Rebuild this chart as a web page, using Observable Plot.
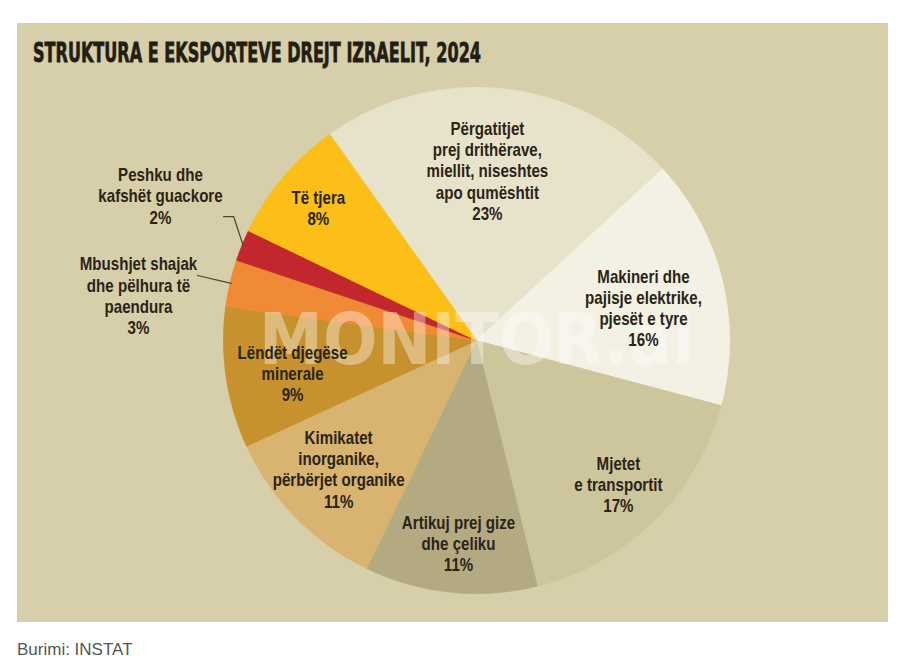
<!DOCTYPE html>
<html>
<head>
<meta charset="utf-8">
<script src="https://cdn.jsdelivr.net/npm/d3@7"></script>
<script src="https://cdn.jsdelivr.net/npm/@observablehq/plot@0.6"></script>
<style>
  html, body { margin: 0; padding: 0; background: #ffffff; }
  #panel { position: absolute; left: 17px; top: 23px; width: 871px; height: 599px; background: #d6cfa9; overflow: hidden; }
  #source { position: absolute; left: 17px; top: 640px; font: 17px/20px "Liberation Sans", Arial, sans-serif; color: #555555; }
</style>
</head>
<body>
<div id="panel"></div>
<div id="source">Burimi: INSTAT</div>
<script>
// Export categories (clockwise from the top-left edge of the first slice)
const categories = [
  "Përgatitjet\nprej drithërave,\nmiellit, niseshtes\napo qumështit",
  "Makineri dhe\npajisje elektrike,\npjesët e tyre",
  "Mjetet\ne transportit",
  "Artikuj prej gize\ndhe çeliku",
  "Kimikatet\ninorganike,\npërbërjet organike",
  "Lëndët djegëse\nminerale",
  "Mbushjet shajak\ndhe pëlhura të\npaendura",
  "Peshku dhe\nkafshët guackore",
  "Të tjera"
];
// Share of exports to Israel, 2024 (%)
const shares = [23, 16, 17, 11, 11, 9, 3, 2, 8];
const sliceColors = ["#e7e3cb", "#f3f1e4", "#cdc59c", "#b3aa82", "#d8b470", "#c7922e", "#f08a34", "#c1272d", "#fbbf17"];

const titleText = "STRUKTURA E EKSPORTEVE DREJT IZRAELIT, 2024";
const watermark = "MONITOR.al";

// Layout: label anchors in unit-circle coordinates (y up), leader elbows for outside labels
const startAngle = -35.5; // degrees clockwise from 12 o'clock
const labelPos = [
  [0.043, 0.672], [0.660, 0.130], [0.561, -0.569], [-0.071, -0.802],
  [-0.545, -0.508], [-0.727, -0.130], [-1.336, 0.178], [-1.249, 0.573], [-0.625, 0.526]
];
const leaders = { 6: [[-1.103, 0.257]], 7: [[-1.0, 0.490], [-0.960, 0.490]] };

const total = d3.sum(shares);
const rad = (deg) => deg * Math.PI / 180;
const pt = (deg, r) => [r * Math.sin(rad(deg)), r * Math.cos(rad(deg))];

// Slice geometry derived from the shares
let acc = startAngle;
const slices = categories.map((name, i) => {
  const a0 = acc, a1 = acc + shares[i] / total * 360;
  acc = a1;
  return { name, value: shares[i], a0, a1, mid: (a0 + a1) / 2 };
});

const polys = [];
for (const s of slices) {
  polys.push({ name: s.name, x: 0, y: 0 });
  const n = Math.max(2, Math.ceil((s.a1 - s.a0) / 0.5));
  for (let k = 0; k <= n; k++) {
    const [x, y] = pt(s.a0 + (s.a1 - s.a0) * k / n, 1);
    polys.push({ name: s.name, x, y });
  }
}

const labels = slices.map((s, i) => ({ text: `${s.name}\n${s.value}%`, x: labelPos[i][0], y: labelPos[i][1] }));

const leaderPts = [];
for (const [i, pts] of Object.entries(leaders)) {
  const s = slices[+i];
  pts.forEach(([x, y]) => leaderPts.push({ id: i, x, y }));
  const [ex, ey] = pt(s.mid, 0.995);
  leaderPts.push({ id: i, x: ex, y: ey });
}

const chart = Plot.plot({
  width: 871,
  height: 599,
  marginLeft: 206,
  marginRight: 159,
  marginTop: 64,
  marginBottom: 29,
  x: { domain: [-1, 1], axis: null },
  y: { domain: [-1, 1], axis: null },
  color: { domain: categories, range: sliceColors },
  style: { background: "transparent", overflow: "visible" },
  marks: [
    Plot.line(polys, { x: "x", y: "y", z: "name", fill: "name", stroke: "name", strokeWidth: 0.8, curve: "linear-closed" }),
    Plot.text([watermark], { x: () => 0, y: () => 0, text: (d) => d, fontSize: 72, fontWeight: "bold",
      fontFamily: "'DejaVu Sans', sans-serif", fill: "#ffffff", fillOpacity: 0.38,
      textAnchor: "middle", lineAnchor: "middle", className: "watermark" }),
    Plot.line(leaderPts, { x: "x", y: "y", z: "id", stroke: "#4a4538", strokeWidth: 1.2 }),
    Plot.text(labels, { x: "x", y: "y", text: "text", fontSize: 18, fontWeight: "bold", lineHeight: 1.18,
      fontFamily: "'Liberation Sans', Arial, sans-serif", fill: "#2b2417",
      textAnchor: "middle", lineAnchor: "middle", className: "slice-label" })
  ]
});

const svg = d3.select(chart);

// Condense the slice labels horizontally around their anchors
svg.selectAll("g.slice-label text").each(function () {
  const t = d3.select(this);
  t.attr("transform", `${t.attr("transform") || ""} scale(0.84,1)`);
});

svg.selectAll("g.watermark text")
  .attr("textLength", 435).attr("lengthAdjust", "spacingAndGlyphs");

// Title, compressed into a heavy condensed line
svg.append("text")
  .attr("x", 16).attr("y", 39)
  .attr("text-anchor", "start")
  .attr("textLength", 448).attr("lengthAdjust", "spacingAndGlyphs")
  .attr("font-family", "'DejaVu Sans', sans-serif")
  .attr("font-weight", "bold")
  .attr("font-size", 26.5)
  .attr("fill", "#231d12")
  .attr("stroke", "#231d12")
  .attr("stroke-width", 0.8)
  .text(titleText);

document.getElementById("panel").appendChild(chart);
</script>
</body>
</html>
